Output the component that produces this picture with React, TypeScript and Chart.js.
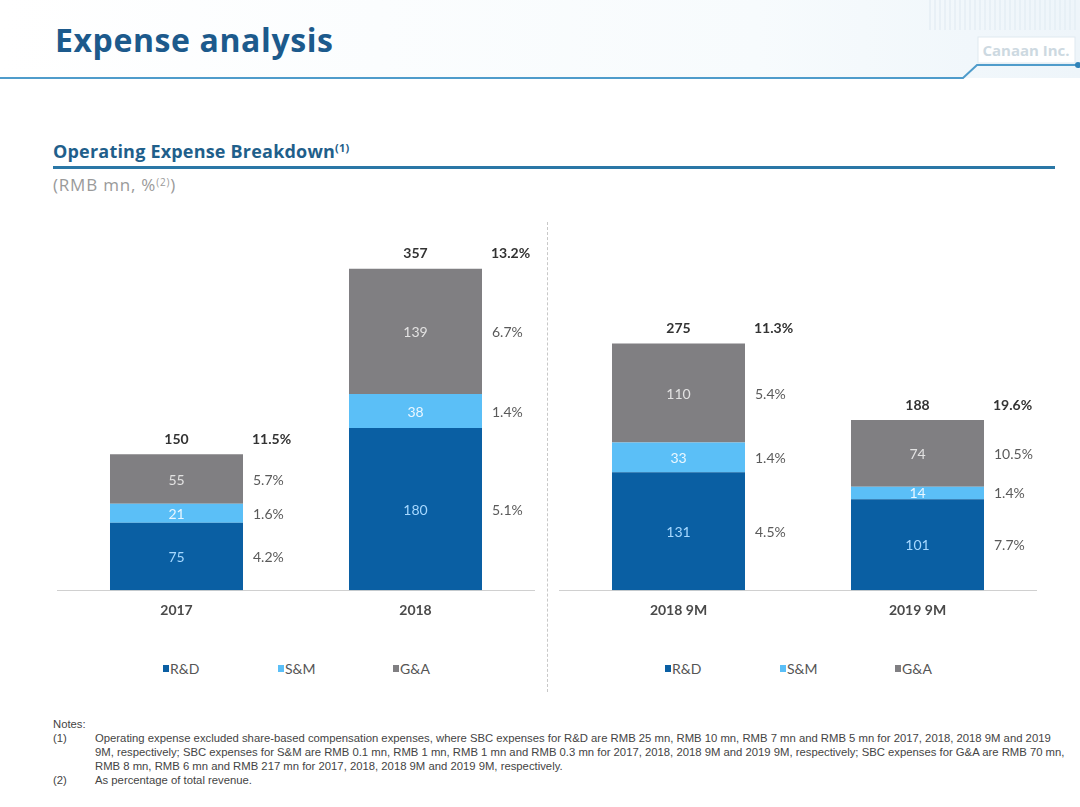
import React, { useEffect, useRef } from "react";
import { Chart, registerables } from "chart.js";

Chart.register(...registerables);

// ---- Data ----
const seriesNames = ["R&D", "S&M", "G&A"];
const leftCategories = ["2017", "2018"];
const rightCategories = ["2018 9M", "2019 9M"];

const rdLeft = [75, 180];
const smLeft = [21, 38];
const gaLeft = [55, 139];
const totalLeft = [150, 357];

const rdRight = [131, 101];
const smRight = [33, 14];
const gaRight = [110, 74];
const totalRight = [275, 188];

const rdPctLeft = ["4.2%", "5.1%"];
const smPctLeft = ["1.6%", "1.4%"];
const gaPctLeft = ["5.7%", "6.7%"];
const totalPctLeft = ["11.5%", "13.2%"];

const rdPctRight = ["4.5%", "7.7%"];
const smPctRight = ["1.4%", "1.4%"];
const gaPctRight = ["5.4%", "10.5%"];
const totalPctRight = ["11.3%", "19.6%"];

// ---- Styles ----
const seriesColors = ["#0a5fa3", "#5bbff7", "#807f82"];
const valueTextColors = ["#a6d8ff", "#eaf7ff", "#e2e2e2"];
const FONT = "Lato, 'Open Sans', sans-serif";

const labelPlugin = {
  id: "segLabels",
  afterDatasetsDraw(chart: any, _args: any, opts: any) {
    const ctx = chart.ctx;
    ctx.save();
    ctx.textBaseline = "middle";
    chart.data.datasets.forEach((ds: any, di: number) => {
      const meta = chart.getDatasetMeta(di);
      meta.data.forEach((bar: any, i: number) => {
        const { x, y, base, width } = bar.getProps(["x", "y", "base", "width"], true);
        const cy = (y + base) / 2;
        ctx.font = `14px ${FONT}`;
        ctx.textAlign = "center";
        ctx.fillStyle = valueTextColors[di];
        ctx.fillText(String(ds.data[i]), x, cy + 1);
        ctx.textAlign = "left";
        ctx.fillStyle = "#5a5a5a";
        ctx.fillText(opts.pcts[di][i], x + width / 2 + 10, cy + 1);
      });
    });
    const topMeta = chart.getDatasetMeta(chart.data.datasets.length - 1);
    topMeta.data.forEach((bar: any, i: number) => {
      const { x, y, width } = bar.getProps(["x", "y", "width"], true);
      ctx.font = `bold 14px ${FONT}`;
      ctx.fillStyle = "#333333";
      ctx.textAlign = "center";
      ctx.fillText(String(opts.totals[i]), x, y - 15);
      ctx.textAlign = "left";
      ctx.fillText(opts.totalPcts[i], x + width / 2 + 9, y - 15);
    });
    ctx.restore();
  },
};

type PanelProps = {
  categories: string[];
  rd: number[];
  sm: number[];
  ga: number[];
  pcts: string[][];
  totals: number[];
  totalPcts: string[];
  left: number;
};

function Panel({ categories, rd, sm, ga, pcts, totals, totalPcts, left }: PanelProps) {
  const ref = useRef<HTMLCanvasElement>(null);
  useEffect(() => {
    const chart = new Chart(ref.current as HTMLCanvasElement, {
      type: "bar",
      data: {
        labels: categories,
        datasets: [
          { label: seriesNames[0], data: rd, backgroundColor: seriesColors[0] },
          { label: seriesNames[1], data: sm, backgroundColor: seriesColors[1] },
          { label: seriesNames[2], data: ga, backgroundColor: seriesColors[2] },
        ],
      },
      options: {
        responsive: true,
        maintainAspectRatio: false,
        animation: false,
        layout: { padding: { top: 8, left: 0, right: 0, bottom: 0 } },
        datasets: { bar: { categoryPercentage: 1, barPercentage: 0.5565 } },
        plugins: {
          legend: { display: false },
          tooltip: { enabled: false },
          segLabels: { pcts, totals, totalPcts },
        } as any,
        scales: {
          x: {
            stacked: true,
            grid: { display: false, drawTicks: false },
            border: { display: true, color: "#d0d0d0", width: 1 },
            ticks: {
              padding: 12,
              color: "#4a4a4a",
              font: { family: FONT, size: 14, weight: "bold" },
            },
          },
          y: { stacked: true, display: false, min: 0, max: 400 },
        },
      },
      plugins: [labelPlugin],
    });
    return () => chart.destroy();
  }, []);
  return (
    <div style={{ position: "absolute", left, top: 222, width: 478, height: 409 }}>
      <canvas ref={ref} />
    </div>
  );
}

function Legend({ left }: { left: number }) {
  return (
    <div style={{ position: "absolute", left, top: 660, display: "flex", fontFamily: FONT, fontSize: 14, color: "#555" }}>
      {seriesNames.map((n, i) => (
        <div key={n} style={{ width: 115, display: "flex", alignItems: "center" }}>
          <span style={{ display: "inline-block", width: 6, height: 7, background: seriesColors[i], marginRight: 1 }} />
          <span>{n}</span>
        </div>
      ))}
    </div>
  );
}

export default function App() {
  const vlines = [];
  for (let x = 930; x < 1080; x += 5) vlines.push(x);
  return (
    <div style={{ position: "absolute", left: 0, top: 0, width: 1080, height: 807, background: "#ffffff", overflow: "hidden" }}>
      <svg width={1080} height={100} style={{ position: "absolute", left: 0, top: 0 }}>
        <defs>
          <linearGradient id="hg" x1="0" x2="1" y1="0" y2="0">
            <stop offset="0" stopColor="#ffffff" />
            <stop offset="0.7" stopColor="#f7fbfd" />
            <stop offset="1" stopColor="#eef5fa" />
          </linearGradient>
        </defs>
        <rect x={0} y={0} width={1080} height={78} fill="url(#hg)" />
        {vlines.map((x) => (
          <line key={x} x1={x} y1={0} x2={x} y2={30} stroke="#e4eef5" strokeWidth={1.5} />
        ))}
        <rect x={978} y={37} width={97} height={26} fill="#ffffff" stroke="#dfe9f0" />
        <text x={1026} y={56} textAnchor="middle" fontFamily="'Open Sans', sans-serif" fontWeight={700} fontSize={15} fill="#cdd9e1">
          Canaan Inc.
        </text>
        <polyline points="0,78 963,78 977,65 1078,65" fill="none" stroke="#4f9ccb" strokeWidth={2} />
        <circle cx={1078} cy={65} r={3} fill="#2f82b8" />
      </svg>
      <div style={{ position: "absolute", left: 55, top: 18, fontFamily: "'Open Sans', sans-serif", fontWeight: 700, fontSize: 32, color: "#1c5a8c", letterSpacing: 0.6, lineHeight: "44px" }}>
        Expense analysis
      </div>
      <div style={{ position: "absolute", left: 53, top: 140, fontFamily: "'Open Sans', sans-serif", fontWeight: 700, fontSize: 18, color: "#1f5f8b", lineHeight: "22px", letterSpacing: 0.2 }}>
        Operating Expense Breakdown<sup style={{ fontSize: 11, verticalAlign: "top", position: "relative", top: -3 }}>(1)</sup>
      </div>
      <div style={{ position: "absolute", left: 53, top: 166, width: 1002, height: 3, background: "#2a77a6" }} />
      <div style={{ position: "absolute", left: 53, top: 174, fontFamily: "'Open Sans', sans-serif", fontSize: 17, color: "#9a9a9a", lineHeight: "22px", letterSpacing: 0.8 }}>
        (RMB mn, %<sup style={{ fontSize: 10, verticalAlign: "top", position: "relative", top: -3 }}>(2)</sup>)
      </div>
      <div style={{ position: "absolute", left: 547, top: 222, width: 0, height: 470, borderLeft: "1px dashed #c8c8c8" }} />

      <Panel
        categories={leftCategories}
        rd={rdLeft}
        sm={smLeft}
        ga={gaLeft}
        pcts={[rdPctLeft, smPctLeft, gaPctLeft]}
        totals={totalLeft}
        totalPcts={totalPctLeft}
        left={57}
      />
      <Panel
        categories={rightCategories}
        rd={rdRight}
        sm={smRight}
        ga={gaRight}
        pcts={[rdPctRight, smPctRight, gaPctRight]}
        totals={totalRight}
        totalPcts={totalPctRight}
        left={559}
      />
      <Legend left={163} />
      <Legend left={665} />

      <div style={{ position: "absolute", left: 53, top: 717, fontFamily: "'Liberation Sans', Arial, sans-serif", fontSize: 11.3, color: "#444", lineHeight: "14px", whiteSpace: "nowrap" }}>
        <div>Notes:</div>
        <div style={{ display: "flex" }}>
          <div style={{ width: 42 }}>(1)</div>
          <div>
            Operating expense excluded share-based compensation expenses, where SBC expenses for R&amp;D are RMB 25 mn, RMB 10 mn, RMB 7 mn and RMB 5 mn for 2017, 2018, 2018 9M and 2019
            <br />
            9M, respectively; SBC expenses for S&amp;M are RMB 0.1 mn, RMB 1 mn, RMB 1 mn and RMB 0.3 mn for 2017, 2018, 2018 9M and 2019 9M, respectively; SBC expenses for G&amp;A are RMB 70 mn,
            <br />
            RMB 8 mn, RMB 6 mn and RMB 217 mn for 2017, 2018, 2018 9M and 2019 9M, respectively.
          </div>
        </div>
        <div style={{ display: "flex" }}>
          <div style={{ width: 42 }}>(2)</div>
          <div>As percentage of total revenue.</div>
        </div>
      </div>
    </div>
  );
}
